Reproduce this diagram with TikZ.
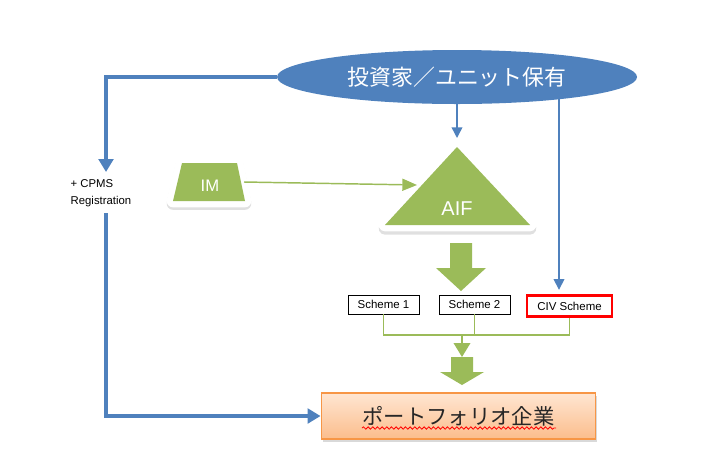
\documentclass[tikz,border=0pt]{standalone}
\usepackage{fontspec}
\setmainfont{Liberation Sans}
\newfontfamily\jpfont{Noto Sans CJK JP}
\usetikzlibrary{arrows.meta,positioning,shapes.geometric,shadows,decorations.pathmorphing}
\definecolor{aifblue}{HTML}{4F81BD}
\definecolor{aifgreen}{HTML}{9BBB59}
\definecolor{pfline}{HTML}{F79646}
\definecolor{pftop}{HTML}{FFE6D2}
\definecolor{pfbot}{HTML}{FBBD8C}

\begin{document}
\begin{tikzpicture}[x=0.75pt,y=-0.75pt,
    bluethick/.style={aifblue,line width=3.4pt,-{Triangle[length=9.75pt,width=11pt]}},
    bluethin/.style={aifblue,line width=1.1pt,-{Triangle[length=8pt,width=8pt]}},
    greenthin/.style={aifgreen,line width=1.1pt},
    whiterim/.style={white,line width=9.5pt,line join=round},
    rimshade/.style={black!12,line width=9.5pt,line join=round},
    schemebox/.style={draw,line width=0.6pt,inner sep=0pt,font=\fontsize{8.6}{10}\selectfont}]
  \useasboundingbox (0,0) rectangle (720,458);

  % investors
  \node[ellipse,fill=aifblue,minimum width=270pt,minimum height=40.5pt,inner sep=0pt,
        text=white,font=\jpfont\fontsize{16.4}{19}\selectfont] (inv) at (457,77) {投資家／ユニット保有};
  \coordinate (inv-r) at (559,98);

  % AIF triangle
  \coordinate (aif-top) at (457,147); \coordinate (aif-l) at (385,225); \coordinate (aif-r) at (530,225);
  \draw[rimshade] ([yshift=-2.5]aif-top)--([yshift=-2.5]aif-l)--([yshift=-2.5]aif-r)--cycle;
  \draw[whiterim] (aif-top)--(aif-l)--(aif-r)--cycle;
  \fill[aifgreen] (aif-top)--(aif-l)--(aif-r)--cycle;
  \node[text=white,font=\fontsize{15}{18}\selectfont] (aif) at (457,209) {AIF};
  \coordinate (aif-in) at (457,138);
  \coordinate (aif-w) at (417,185);

  % IM trapezoid
  \draw[rimshade] (182,165.5)--(237,165.5)--(245,203.5)--(173,203.5)--cycle;
  \draw[whiterim] (182,163)--(237,163)--(245,201)--(173,201)--cycle;
  \fill[aifgreen] (182,163)--(237,163)--(245,201)--(173,201)--cycle;
  \node[text=white,font=\fontsize{12.5}{15}\selectfont] (im) at (210,186) {IM};
  \coordinate (im-e) at (244,182);

  % schemes
  \node[schemebox,minimum width=53.25pt,minimum height=14.25pt] (s1) at (383.5,304.5) {Scheme 1};
  \node[schemebox,minimum width=53.25pt,minimum height=14.25pt] (s2) at (474.5,304.5) {Scheme 2};
  \node[schemebox,draw=red,line width=1.8pt,minimum width=63.75pt,minimum height=15.5pt] (civ) at (569.5,306) {CIV Scheme};

  % portfolio
  \node[draw=pfline,line width=0.9pt,top color=pftop,bottom color=pfbot,minimum width=206pt,minimum height=34.5pt,
        drop shadow={opacity=0.3,shadow xshift=1pt,shadow yshift=-2pt},
        font=\jpfont\fontsize{16}{18}\selectfont,text=black!85] (pf) at (458.5,416) {ポートフォリオ企業};
  \draw[red,line width=0.6pt,decorate,decoration={snake,amplitude=0.9pt,segment length=3.5pt}] (362,428)--(556,428);

  % CPMS route
  \coordinate (cpms-top) at (106,172);
  \coordinate (cpms-bot) at (106,213);
  \node[align=left,anchor=west,font=\fontsize{8.5}{12.75}\selectfont] (cpms) at (66,193.5) {+ CPMS\\Registration};
  \draw[bluethick] (inv.west) -| (cpms-top);
  \draw[bluethick] (cpms-bot) |- (pf.west);

  % investors to AIF and CIV
  \draw[bluethin] (inv.south) -- (aif-in);
  \draw[bluethin,shorten >=3.5pt] (inv-r) -- (inv-r |- civ.north);

  % IM to AIF
  \draw[greenthin,-{Triangle[length=11pt,width=9pt]}] (im-e) -- (aif-w);

  % block arrows
  \fill[aifgreen] (450,243)--(472,243)--(472,268)--(486,268)--(461,291)--(436,268)--(450,268)--cycle;
  \fill[aifgreen] (451,357)--(473,357)--(473,372)--(484,372)--(462,385)--(440,372)--(451,372)--cycle;

  % scheme joins
  \coordinate (join) at (462,335);
  \coordinate (join-tip) at (462,357);
  \draw[greenthin] (s1.south) |- (join) -| (civ.south);
  \draw[greenthin] (s2.south) -- (s2.south |- join);
  \draw[greenthin,-{Triangle[length=10.5pt,width=12.5pt]}] (join) -- (join-tip);
\end{tikzpicture}
\end{document}
